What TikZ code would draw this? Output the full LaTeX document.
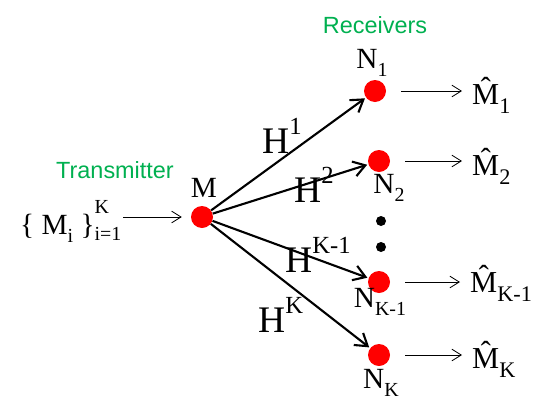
\documentclass[tikz,border=0pt]{standalone}
\usepackage{fontspec}
\setmainfont{Liberation Serif}
\setsansfont{Liberation Sans}
\usetikzlibrary{arrows.meta}
\definecolor{rxgreen}{RGB}{0,176,80}
\newcommand{\lowtxt}[2][17]{\raisebox{-0.3em}{\fontsize{#1}{#1}\selectfont #2}}
\newcommand{\hightxt}[2][21]{\raisebox{0.5em}{\fontsize{#1}{#1}\selectfont #2}}
\begin{document}
\begin{tikzpicture}[x=0.03cm, y=-0.03cm,
  reddot/.style={circle, fill=red, minimum size=0.66cm, inner sep=0pt},
  blackdot/.style={circle, fill=black, minimum size=0.3cm, inner sep=0pt},
  chan/.style={line width=1.8pt, -{Straight Barb[length=10pt,width=13pt]}, shorten >=1pt},
  outarrow/.style={line width=0.7pt, -{Straight Barb[length=8pt,width=10pt]}},
  txt/.style={font=\fontsize{25}{30}\selectfont, inner sep=0pt},
  hatlab/.style={font=\fontsize{26}{30}\selectfont, inner sep=0pt, anchor=base west},
  hlab/.style={font=\fontsize{32}{36}\selectfont, inner sep=0pt, anchor=base west},
  grn/.style={text=rxgreen, font=\sffamily\fontsize{20}{24}\selectfont, inner sep=0pt}]
\useasboundingbox (0,0) rectangle (554,415);
\node[grn] (tx) at (115,170) {Transmitter};
\node[grn] (rx) at (375,25) {Receivers};
\node[reddot] (m) at (202,217) {};
\node[reddot] (n1) at (375,91) {};
\node[reddot] (n2) at (379,161) {};
\node[reddot] (nk1) at (379,282) {};
\node[reddot] (nk) at (379,355) {};
\node[blackdot] (d1) at (381,221) {};
\node[blackdot] (d2) at (381,247) {};
\node[txt, anchor=base] (mlab) at (204,197) {M};
\node[txt, anchor=base] (n1lab) at (372,68) {N\lowtxt{1}};
\node[txt, anchor=base] (n2lab) at (389,193) {N\lowtxt{2}};
\node[txt, anchor=base] (nk1lab) at (380,307) {N\lowtxt{K-1}};
\node[txt, anchor=base] (nklab) at (381,388) {N\lowtxt{K}};
\node[txt, anchor=base west] (mset) at (20,234) {\{ M\lowtxt{i} \}\rlap{\raisebox{0.7em}{\fontsize{17}{17}\selectfont K}}\raisebox{-0.22em}{\fontsize{17}{17}\selectfont i=1}};
\node[hatlab] (m1) at (472,104) {\^{M}\lowtxt[19]{1}};
\node[hatlab] (m2) at (472,175) {\^{M}\lowtxt[19]{2}};
\node[hatlab] (mk1) at (470,292) {\^{M}\lowtxt[19]{K-1}};
\node[hatlab] (mk) at (472,368) {\^{M}\lowtxt[19]{K}};
\node[hlab] (h1) at (262,153) {H\hightxt{1}};
\node[hlab] (h2) at (294,202) {H\hightxt{2}};
\node[hlab] (hk1) at (285,272) {H\hightxt{K-1}};
\node[hlab] (hk) at (258,332) {H\hightxt{K}};
\draw[outarrow, shorten <=0.05cm, shorten >=0.27cm] (mset.east |- m) -- (m);
\draw[chan] (m) -- (n1);
\draw[chan] (m) -- (n2);
\draw[chan] (m) -- (nk1);
\draw[chan] (m) -- (nk);
\draw[outarrow, shorten <=0.45cm, shorten >=0.3cm] (n1) -- (m1.west |- n1);
\draw[outarrow, shorten <=0.45cm, shorten >=0.3cm] (n2) -- (m2.west |- n2);
\draw[outarrow, shorten <=0.45cm, shorten >=0.3cm] (nk1) -- (mk1.west |- nk1);
\draw[outarrow, shorten <=0.45cm, shorten >=0.3cm] (nk) -- (mk.west |- nk);
\end{tikzpicture}
\end{document}
